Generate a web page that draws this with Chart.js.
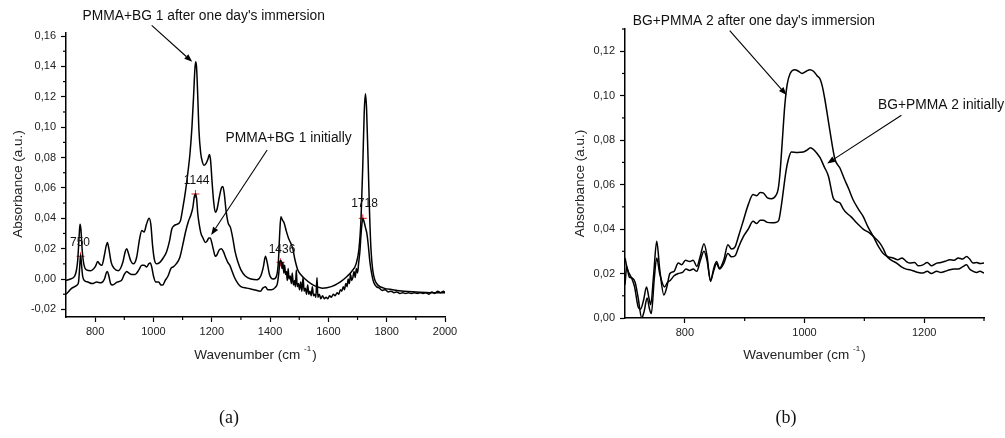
<!DOCTYPE html>
<html><head><meta charset="utf-8">
<script src="https://cdn.jsdelivr.net/npm/chart.js@4.4.1/dist/chart.umd.min.js"></script>
<style>
html,body{margin:0;padding:0;background:#fff;width:1005px;height:438px;overflow:hidden}
#wa{position:absolute;left:0;top:0;width:500px;height:438px}
#wb{position:absolute;left:500px;top:0;width:505px;height:438px}
.cap{position:absolute;top:406px;line-height:22px;font-family:"Liberation Serif","DejaVu Serif",serif;font-size:18px;color:#111;transform:translateX(-50%)}
</style></head><body>
<div id="wa"><canvas id="ca"></canvas></div>
<div id="wb"><canvas id="cb"></canvas></div>
<div class="cap" style="left:229px">(a)</div>
<div class="cap" style="left:786px">(b)</div>
<script>
// ---------- DATA: panel (a) ----------
const aAfterWn  = [700,715,730,740,745,748,751,756,762,770,785,800,809,815,823,832,838,842,847,855,865,880,895,903,908,914,922,931,942,952,960,968,976,985,991,997,1003,1011,1022,1034,1045,1055,1063,1070,1080,1092,1100,1110,1118,1125,1132,1138,1142,1145,1148,1152,1156,1162,1168,1173,1180,1187,1192,1196,1201,1206,1212,1218,1226,1233,1238,1243,1249,1256,1264,1272,1280,1290,1300,1315,1335,1355,1368,1377,1384,1390,1398,1410,1420,1428,1433,1437,1442,1448,1455,1463,1470,1478,1485,1495,1505,1520,1540,1560,1580,1610,1640,1660,1680,1695,1705,1712,1718,1723,1727,1731,1736,1741,1746,1752,1760,1770,1790,1820,1860,1900,1950,2000];
const aAfterAbs = [-0.001,0.000,0.002,0.012,0.028,0.036,0.033,0.018,0.009,0.006,0.0055,0.008,0.0115,0.010,0.009,0.016,0.022,0.024,0.020,0.011,0.007,0.0055,0.011,0.018,0.020,0.017,0.012,0.010,0.014,0.026,0.032,0.031,0.036,0.040,0.036,0.022,0.013,0.010,0.011,0.014,0.018,0.025,0.033,0.035,0.036,0.038,0.046,0.058,0.070,0.082,0.100,0.122,0.138,0.143,0.139,0.120,0.098,0.083,0.077,0.075,0.076,0.079,0.082,0.078,0.064,0.052,0.044,0.046,0.054,0.060,0.061,0.056,0.045,0.037,0.034,0.027,0.018,0.011,0.006,0.002,0.000,-0.0005,0.002,0.008,0.015,0.011,0.003,0.000,0.001,0.010,0.030,0.041,0.039,0.037,0.032,0.027,0.024,0.020,0.013,0.006,0.003,0.000,-0.003,-0.005,-0.006,-0.005,-0.002,0.001,0.005,0.010,0.020,0.040,0.075,0.110,0.122,0.112,0.080,0.045,0.020,0.006,-0.001,-0.004,-0.006,-0.007,-0.008,-0.0085,-0.009,-0.009];

const aInitWn  = [700,710,720,730,738,743,747,750,753,757,763,775,790,805,820,832,838,842,847,853,860,875,890,900,908,915,925,937,950,960,968,977,984,989,994,1000,1008,1018,1026,1032,1040,1050,1060,1068,1078,1090,1100,1110,1120,1128,1135,1140,1144,1148,1152,1157,1163,1170,1178,1184,1190,1195,1200,1206,1212,1218,1225,1233,1240,1248,1255,1262,1268,1278,1290,1300,1320,1345,1367,1375,1384,1392,1405,1418,1425,1430,1434,1438,1441,1444,1447,1450,1453,1456,1459,1462,1465,1469,1473,1476,1480,1484,1487,1490,1493,1497,1501,1505,1509,1513,1517,1521,1525,1529,1533,1537,1541,1545,1549,1553,1557,1561,1564,1569,1574,1580,1586,1592,1598,1604,1610,1617,1623,1630,1636,1641,1646,1651,1655,1660,1664,1668,1672,1676,1680,1684,1688,1692,1696,1700,1704,1708,1713,1718,1722,1727,1732,1737,1742,1748,1755,1765,1775,1785,1795,1805,1815,1825,1835,1845,1855,1865,1875,1885,1895,1905,1915,1925,1935,1945,1955,1965,1975,1985,1995,2000];
const aInitAbs = [-0.010,-0.008,-0.006,-0.005,-0.004,-0.002,0.008,0.016,0.010,0.002,-0.001,-0.002,-0.003,-0.002,-0.0025,0.000,0.004,0.005,0.002,-0.003,-0.004,-0.002,-0.001,0.003,0.005,0.004,0.003,0.003,0.006,0.009,0.009,0.008,0.010,0.0105,0.008,0.002,-0.002,-0.002,-0.004,-0.004,-0.001,0.002,0.007,0.008,0.010,0.014,0.022,0.031,0.038,0.042,0.047,0.054,0.056,0.053,0.043,0.036,0.030,0.027,0.024,0.025,0.027,0.027,0.024,0.019,0.015,0.016,0.019,0.020,0.018,0.014,0.011,0.009,0.006,0.001,-0.003,-0.005,-0.006,-0.007,-0.008,-0.006,-0.005,-0.007,-0.007,-0.0055,-0.003,0.004,0.012,0.012,0.007,0.011,0.004,0.009,0.003,0.005,-0.001,0.007,0.000,0.002,-0.003,0.004,-0.004,-0.001,-0.005,0.006,-0.005,-0.003,-0.007,-0.002,-0.008,0.001,-0.008,-0.006,-0.010,-0.004,-0.010,-0.008,-0.011,-0.005,-0.011,-0.010,-0.012,0.001,-0.012,-0.010,-0.013,-0.011,-0.013,-0.012,-0.013,-0.011,-0.012,-0.010,-0.011,-0.009,-0.010,-0.007,-0.008,-0.005,-0.007,-0.003,-0.005,0.000,-0.003,0.003,-0.001,0.001,0.005,0.001,0.007,0.004,0.011,0.018,0.032,0.040,0.038,0.034,0.030,0.022,0.012,0.004,-0.002,-0.005,-0.006,-0.0075,-0.007,-0.0085,-0.008,-0.009,-0.0085,-0.0095,-0.009,-0.0095,-0.009,-0.0095,-0.009,-0.0095,-0.009,-0.0095,-0.009,-0.010,-0.0085,-0.0095,-0.008,-0.009,-0.008,-0.009];

const aPeakWn  = [750,1144,1436,1718];
const aPeakAbs = [0.015,0.056,0.011,0.040];
const aPeakLabels = ['750','1144','1436','1718'];

const aXTicks = [800,1000,1200,1400,1600,1800,2000];
const aXMinor = [900,1100,1300,1500,1700,1900];
const aYTicks = [-0.02,0,0.02,0.04,0.06,0.08,0.10,0.12,0.14,0.16];
const aYMinor = [-0.01,0.01,0.03,0.05,0.07,0.09,0.11,0.13,0.15];

// ---------- DATA: panel (b) ----------
const bAfterWn  = [700,704,711,716,722,726,731,736,740,743,748,753,758,765,770,775,782,789,795,801,808,814,820,826,832,837,843,848,853,858,865,872,878,884,890,898,906,914,920,926,931,938,945,952,956,959,963,967,971,976,984,990,996,1003,1009,1015,1021,1026,1030,1034,1042,1051,1059,1067,1074,1081,1090,1098,1106,1115,1124,1132,1140,1148,1156,1163,1170,1176,1184,1190,1198,1205,1212,1221,1228,1235,1243,1250,1257,1264,1271,1276,1282,1288,1293,1300];
const bAfterAbs = [0.027,0.022,0.018,0.014,0.005,0.004,0.008,0.014,0.009,0.006,0.020,0.0345,0.022,0.0104,0.014,0.020,0.021,0.0247,0.024,0.026,0.0254,0.026,0.0232,0.028,0.0334,0.028,0.0164,0.022,0.0254,0.0224,0.026,0.033,0.031,0.032,0.037,0.044,0.051,0.0555,0.055,0.0565,0.0563,0.054,0.0536,0.055,0.058,0.065,0.080,0.0954,0.105,0.110,0.1117,0.111,0.110,0.111,0.1117,0.111,0.109,0.1075,0.104,0.0984,0.085,0.0713,0.0676,0.0623,0.058,0.0533,0.049,0.0457,0.041,0.0367,0.032,0.0289,0.0275,0.027,0.0262,0.027,0.0255,0.0247,0.025,0.0235,0.0239,0.025,0.0235,0.0247,0.025,0.0255,0.0262,0.026,0.027,0.0265,0.0277,0.0265,0.0247,0.025,0.0245,0.0247];

const bInitWn  = [700,703,707,712,717,722,728,732,737,741,744,749,753,758,766,771,776,782,789,796,802,808,814,820,826,832,837,843,848,853,858,865,872,878,884,890,898,906,914,920,926,931,938,945,952,957,961,965,969,973,978,988,998,1004,1010,1016,1021,1026,1033,1040,1048,1053,1059,1065,1070,1078,1087,1098,1109,1118,1126,1132,1137,1145,1154,1162,1170,1176,1184,1190,1198,1205,1212,1221,1228,1235,1243,1250,1257,1264,1271,1276,1282,1288,1293,1300];
const bInitAbs = [0.015,0.023,0.0185,0.018,0.016,0.009,0.000,0.003,0.009,0.004,0.002,0.018,0.027,0.020,0.014,0.016,0.017,0.019,0.020,0.0205,0.022,0.0214,0.022,0.021,0.026,0.030,0.026,0.017,0.021,0.0245,0.022,0.0245,0.029,0.0275,0.028,0.032,0.0367,0.040,0.0435,0.0425,0.044,0.044,0.043,0.0428,0.043,0.044,0.050,0.058,0.066,0.0713,0.0747,0.0745,0.0747,0.0755,0.0766,0.0755,0.074,0.0721,0.068,0.0638,0.054,0.0525,0.0518,0.049,0.0473,0.0455,0.0428,0.040,0.0382,0.036,0.0337,0.031,0.028,0.026,0.0247,0.023,0.022,0.0217,0.021,0.0205,0.0202,0.021,0.020,0.021,0.0205,0.021,0.0217,0.022,0.022,0.023,0.0239,0.022,0.021,0.0205,0.021,0.0202];

const bXTicks = [800,1000,1200];
const bXMinor = [900,1100,1300];
const bYTicks = [0,0.02,0.04,0.06,0.08,0.10,0.12];
const bYMinor = [0.01,0.03,0.05,0.07,0.09,0.11,0.13];

// ---------- helpers ----------
const FONT = '"Liberation Sans", Arial, sans-serif';
const pts = (xs, ys) => xs.map((x, i) => ({x: x, y: ys[i]}));
const fmt = v => (Math.round(v * 100) / 100).toFixed(2).replace('.', ',');

function decorPlugin(cfg) {
  return {
    id: 'decor',
    afterDraw(chart) {
      const ctx = chart.ctx, xs = chart.scales.x, ys = chart.scales.y, ca = chart.chartArea;
      ctx.save();
      ctx.strokeStyle = '#000'; ctx.lineWidth = 1.2;
      cfg.xMinor.forEach(v => { const p = xs.getPixelForValue(v); ctx.beginPath(); ctx.moveTo(p, ca.bottom); ctx.lineTo(p, ca.bottom + 3); ctx.stroke(); });
      cfg.yMinor.forEach(v => { const p = ys.getPixelForValue(v); ctx.beginPath(); ctx.moveTo(ca.left, p); ctx.lineTo(ca.left - 3, p); ctx.stroke(); });
      ctx.fillStyle = '#000'; ctx.lineWidth = 1.1;
      cfg.arrows.forEach(a => {
        const x1 = xs.getPixelForValue(a.x1), y1 = ys.getPixelForValue(a.y1);
        const x2 = xs.getPixelForValue(a.x2), y2 = ys.getPixelForValue(a.y2);
        const ang = Math.atan2(y2 - y1, x2 - x1), L = 8, W = 3;
        const bx = x2 - L * Math.cos(ang), by = y2 - L * Math.sin(ang);
        ctx.beginPath(); ctx.moveTo(x1, y1); ctx.lineTo(bx, by); ctx.stroke();
        ctx.beginPath(); ctx.moveTo(x2, y2);
        ctx.lineTo(bx + W * Math.sin(ang), by - W * Math.cos(ang));
        ctx.lineTo(bx - W * Math.sin(ang), by + W * Math.cos(ang));
        ctx.closePath(); ctx.fill();
      });
      ctx.fillStyle = '#111'; ctx.textBaseline = 'middle';
      cfg.texts.forEach(t => {
        ctx.font = t.size + 'px ' + FONT; ctx.textAlign = t.align || 'left';
        ctx.fillText(t.text, xs.getPixelForValue(t.x), ys.getPixelForValue(t.y));
      });
      ctx.fillStyle = '#222';
      ctx.font = '13.5px ' + FONT;
      ctx.save();
      ctx.translate(ca.left - cfg.yTitleDx, (ca.top + ca.bottom) / 2 + cfg.yTitleDy);
      ctx.rotate(-Math.PI / 2); ctx.textAlign = 'center';
      ctx.fillText('Absorbance (a.u.)', 0, 0);
      ctx.restore();
      const main = 'Wavenumber (cm ', sup = '-1', close = ')';
      ctx.font = '13.5px ' + FONT; const w1 = ctx.measureText(main).width, w3 = ctx.measureText(close).width;
      ctx.font = '8px ' + FONT; const w2 = ctx.measureText(sup).width;
      const tot = w1 + w2 + w3 + 1, cx = (ca.left + ca.right) / 2, ty = ca.bottom + cfg.xTitleDy;
      const sx = cx - tot / 2;
      ctx.textAlign = 'left';
      ctx.font = '13.5px ' + FONT; ctx.fillText(main, sx, ty);
      ctx.font = '8px ' + FONT; ctx.fillText(sup, sx + w1, ty - 6);
      ctx.font = '13.5px ' + FONT; ctx.fillText(close, sx + w1 + w2 + 1, ty);
      ctx.restore();
    }
  };
}

function makeChart(id, c) {
  return new Chart(document.getElementById(id), {
    type: 'line',
    data: {datasets: c.datasets},
    options: {
      responsive: true, maintainAspectRatio: false, animation: false, devicePixelRatio: 1,
      layout: {padding: c.padding},
      plugins: {legend: {display: false}, tooltip: {enabled: false}},
      elements: {point: {radius: 0}},
      scales: {
        x: {
          type: 'linear', min: c.xMin, max: c.xMax,
          afterBuildTicks: s => { s.ticks = c.xTicks.map(v => ({value: v})); },
          afterFit: s => { s.height = c.xHeight; },
          ticks: {font: {family: FONT, size: 11}, color: '#222', padding: 3, maxRotation: 0, autoSkip: false, callback: v => String(v)},
          grid: {drawOnChartArea: false, drawTicks: true, tickLength: 5, tickColor: '#000', tickWidth: 1.2},
          border: {display: true, color: '#000', width: 1.5}
        },
        y: {
          type: 'linear', min: c.yMin, max: c.yMax,
          afterBuildTicks: s => { s.ticks = c.yTicks.map(v => ({value: v})); },
          afterFit: s => { s.width = c.yWidth; },
          ticks: {font: {family: FONT, size: 11}, color: '#222', padding: 5, autoSkip: false, callback: v => fmt(v)},
          grid: {drawOnChartArea: false, drawTicks: true, tickLength: 5, tickColor: '#000', tickWidth: 1.2},
          border: {display: true, color: '#000', width: 1.5}
        }
      }
    },
    plugins: [decorPlugin(c.decor)]
  });
}

const lineDs = (xs, ys) => ({data: pts(xs, ys), borderColor: '#000', borderWidth: 1.5, pointRadius: 0, fill: false, cubicInterpolationMode: 'monotone'});

makeChart('ca', {
  datasets: [
    lineDs(aAfterWn, aAfterAbs),
    lineDs(aInitWn, aInitAbs),
    {type: 'scatter', data: pts(aPeakWn, aPeakAbs), showLine: false, pointStyle: 'cross', pointRadius: 4, borderColor: '#e02020', borderWidth: 1, backgroundColor: '#e02020'}
  ],
  padding: {left: 0, top: 33, right: 55, bottom: 0},
  xMin: 700, xMax: 2000, yMin: -0.025, yMax: 0.162,
  xTicks: aXTicks, yTicks: aYTicks, xHeight: 121, yWidth: 66,
  decor: {
    xMinor: aXMinor, yMinor: aYMinor, yTitleDx: 48, yTitleDy: 9, xTitleDy: 38,
    arrows: [
      {x1: 994, y1: 0.167, x2: 1133, y2: 0.143},
      {x1: 1390, y1: 0.085, x2: 1198, y2: 0.029}
    ],
    texts: [
      {text: "PMMA+BG 1 after one day's immersion", x: 757, y: 0.173, size: 13.8},
      {text: 'PMMA+BG 1 initially', x: 1247, y: 0.0928, size: 13.8},
      {text: aPeakLabels[0], x: 748, y: 0.0237, size: 12, align: 'center'},
      {text: aPeakLabels[1], x: 1148, y: 0.0645, size: 12, align: 'center'},
      {text: aPeakLabels[2], x: 1441, y: 0.0195, size: 12, align: 'center'},
      {text: aPeakLabels[3], x: 1724, y: 0.0493, size: 12, align: 'center'}
    ]
  }
});

makeChart('cb', {
  datasets: [
    lineDs(bAfterWn, bAfterAbs),
    lineDs(bInitWn, bInitAbs)
  ],
  padding: {left: 0, top: 29, right: 21, bottom: 0},
  xMin: 700, xMax: 1300, yMin: 0, yMax: 0.13,
  xTicks: bXTicks, yTicks: bYTicks, xHeight: 120, yWidth: 125,
  decor: {
    xMinor: bXMinor, yMinor: bYMinor, yTitleDx: 45, yTitleDy: 10, xTitleDy: 37,
    arrows: [
      {x1: 875, y1: 0.1293, x2: 970, y2: 0.1003},
      {x1: 1162, y1: 0.0912, x2: 1038, y2: 0.0695}
    ],
    texts: [
      {text: "BG+PMMA 2 after one day's immersion", x: 713, y: 0.1333, size: 13.8},
      {text: 'BG+PMMA 2 initially', x: 1123, y: 0.0957, size: 13.8}
    ]
  }
});
</script>
</body></html>
